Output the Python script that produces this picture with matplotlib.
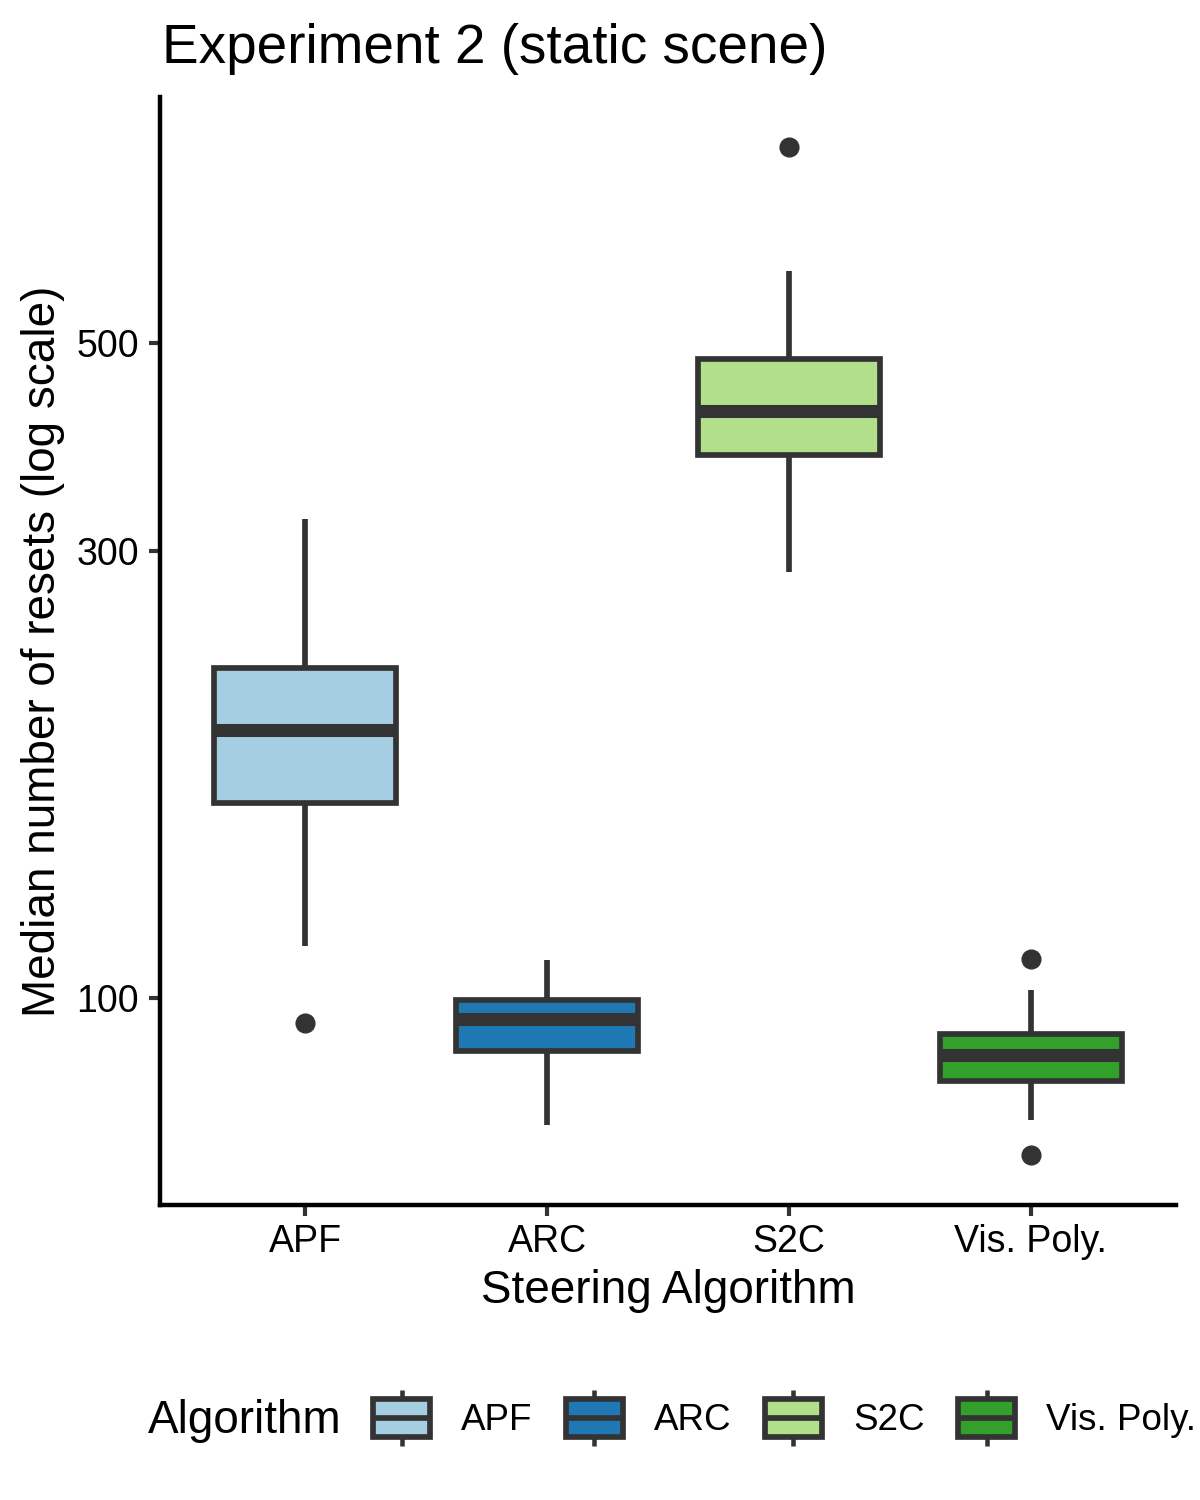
import matplotlib
matplotlib.use("Agg")
import matplotlib.pyplot as plt
from matplotlib.legend_handler import HandlerBase
from matplotlib.patches import Rectangle
from matplotlib.lines import Line2D

# values (log-scale y axis)
ALGOS = ["APF", "ARC", "S2C", "Vis. Poly."]
COLORS = ["#A6CEE3", "#1F78B4", "#B2DF8A", "#33A02C"]
WHISK_LO = [113.6, 73.2, 285.0, 74.1]
Q1 = [161.5, 87.8, 380.0, 81.5]
MED = [193.0, 95.0, 423.0, 86.9]
Q3 = [225.0, 99.5, 481.0, 91.4]
WHISK_HI = [324.0, 109.8, 597.0, 102.0]
OUTLIERS = [[94.0], [], [809.0], [110.0, 68.0]]
Y_TICKS = [100, 300, 500]

EDGE = "#333333"
LW_BOX = 4.1
FONT = "Liberation Sans"
plt.rcParams["font.family"] = [FONT, "DejaVu Sans"]

W, H = 1200, 1500


def fx(px):
    return px / W


def fy(py):
    return 1 - py / H


class BoxKey(HandlerBase):
    """Legend key drawn as a tiny boxplot, like ggplot's draw_key_boxplot."""

    def create_artists(self, legend, orig_handle, xdescent, ydescent,
                       width, height, fontsize, trans):
        x0, y0 = -xdescent, -ydescent
        fc = orig_handle.get_facecolor()
        whisk = Line2D([x0 + width / 2] * 2, [y0, y0 + height],
                       color=EDGE, lw=LW_BOX * 0.8, solid_capstyle="butt")
        rect = Rectangle((x0, y0 + 0.16 * height), width, 0.68 * height,
                         facecolor=fc, edgecolor=EDGE, lw=LW_BOX)
        med = Line2D([x0, x0 + width], [y0 + height / 2] * 2, color=EDGE,
                     lw=LW_BOX, solid_capstyle="butt")
        for a in (whisk, rect, med):
            a.set_transform(trans)
        return [whisk, rect, med]


fig = plt.figure(figsize=(12, 15), dpi=100)
ax = fig.add_axes([fx(160), fy(1205), fx(1176) - fx(160), fy(97) - fy(1205)])

stats = []
for i, name in enumerate(ALGOS):
    stats.append(dict(label=name, whislo=WHISK_LO[i], q1=Q1[i], med=MED[i],
                      q3=Q3[i], whishi=WHISK_HI[i], fliers=OUTLIERS[i]))

bp = ax.bxp(stats, positions=range(1, len(ALGOS) + 1), widths=0.75,
            patch_artist=True, showcaps=False,
            boxprops=dict(edgecolor=EDGE, linewidth=LW_BOX),
            whiskerprops=dict(color=EDGE, linewidth=LW_BOX, solid_capstyle="butt"),
            medianprops=dict(color=EDGE, linewidth=9.4, solid_capstyle="butt"),
            flierprops=dict(marker="o", markerfacecolor=EDGE, markeredgecolor=EDGE,
                            markersize=13.5, linestyle="none"))
for patch, c in zip(bp["boxes"], COLORS):
    patch.set_facecolor(c)

ax.set_yscale("log")
ax.set_ylim(60.1, 915)
ax.set_xlim(0.4, len(ALGOS) + 0.6)
ax.set_yticks(Y_TICKS)
ax.set_yticklabels([str(v) for v in Y_TICKS])
ax.yaxis.set_minor_locator(matplotlib.ticker.NullLocator())
ax.set_xticks(range(1, len(ALGOS) + 1))
ax.set_xticklabels(ALGOS)

for side in ("top", "right"):
    ax.spines[side].set_visible(False)
for side in ("left", "bottom"):
    ax.spines[side].set_linewidth(3.2)
    ax.spines[side].set_color("black")
ax.tick_params(axis="both", which="major", length=8, width=3, color=EDGE,
               labelsize=27, labelcolor="black")
ax.tick_params(axis="x", pad=5.5)
ax.tick_params(axis="y", pad=7)

fig.text(fx(162), fy(63), "Experiment 2 (static scene)", fontsize=39.5,
         ha="left", va="baseline")
fig.text(fx(668), fy(1303), "Steering Algorithm", fontsize=33,
         ha="center", va="baseline")
fig.text(fx(43), fy(651), "Median number of resets (log scale)", fontsize=33,
         rotation=90, ha="center", va="center")

fig.text(fx(148), fy(1433), "Algorithm", fontsize=33, ha="left", va="baseline")
handles = [Rectangle((0, 0), 1, 1, facecolor=c) for c in COLORS]
fig.legend(handles, ALGOS, loc="center left",
           bbox_to_anchor=(fx(373), fy(1418)), ncol=4, frameon=False,
           fontsize=26.5, handler_map={Rectangle: BoxKey()},
           handlelength=1.55, handleheight=1.95, handletextpad=0.85,
           columnspacing=0.9, borderpad=0, borderaxespad=0)

fig.savefig("out.png", dpi=100)
